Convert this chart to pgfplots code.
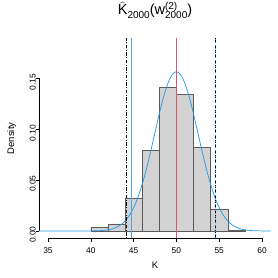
\documentclass[border=0pt]{standalone}
\usepackage{fontspec}
\setmainfont{Liberation Sans}
\usepackage{pgfplots}
\pgfplotsset{compat=1.18}
\definecolor{curveblue}{HTML}{2297E6}
\definecolor{lineblue}{HTML}{4DA6E8}
\definecolor{linered}{HTML}{DF536B}
\definecolor{barfill}{HTML}{D3D3D3}
\definecolor{baredge}{HTML}{5A5A5A}
\newcommand{\hatK}{$\widehat{\mbox{K}}$}
\newcommand{\sub}[1]{{\fontsize{10}{10}\selectfont #1}}
\begin{document}
\begin{tikzpicture}
\useasboundingbox (-39.4pt,-39.6pt) rectangle (238.6pt,238.4pt);
\begin{axis}[
  at={(0,0)}, anchor=south west,
  scale only axis, width=231.2pt, height=200.1pt,
  xmin=34, xmax=61, ymin=-0.00728, ymax=0.18928,
  axis line style={draw=none},
  clip=false,
  xtick={35,40,45,50,55,60}, ytick={0,0.05,0.1,0.15},
  xtick pos=bottom, ytick pos=left,
  tick align=outside, major tick length=3.5pt,
  tick style={black, line width=0.5pt},
  ticklabel style={font=\fontsize{8.4}{9}\selectfont},
  /pgf/number format/assume math mode=true,
  yticklabel style={/pgf/number format/fixed, /pgf/number format/fixed zerofill, /pgf/number format/precision=2, rotate=90, anchor=south, inner sep=0pt, xshift=-3.7pt},
  xticklabel style={inner sep=0pt, anchor=north, yshift=-5.2pt},
  scaled y ticks=false,
  xlabel={K}, ylabel={Density},
  xlabel style={at={(axis description cs:0.5,-0.133)}, anchor=center, font=\fontsize{9.5}{10}\selectfont},
  ylabel style={at={(axis description cs:-0.1198,0.5)}, anchor=center, font=\fontsize{9.5}{10}\selectfont},
  title={\fontsize{14.5}{16}\selectfont \hatK\raisebox{-4pt}{\sub{2000}}(w\rlap{\raisebox{5.5pt}{\sub{(2)}}}\raisebox{-4pt}{\sub{2000}})},
  title style={at={(axis description cs:0.5,1)}, anchor=base, yshift=17.5pt, inner sep=0pt},
]
\draw[black, line width=0.5pt] (axis cs:35,-0.00728) -- (axis cs:60,-0.00728);
\draw[black, line width=0.5pt] (axis cs:34,0) -- (axis cs:34,0.15);
\addplot[ybar interval, fill=barfill, draw=baredge, line width=0.5pt] coordinates {
(40,0.0035) (42,0.007) (44,0.0325) (46,0.079) (48,0.141) (50,0.134) (52,0.082) (54,0.021) (56,0.001) (58,0.001)};
\addplot[curveblue, line width=0.7pt, smooth] coordinates {
(34,0) (39,0.000014) (40,0.000071) (41,0.00031) (41.5,0.00060) (42,0.00114) (42.5,0.00206) (43,0.00360) (43.5,0.00606) (44,0.00980) (44.5,0.01526) (45,0.02286) (45.5,0.03294) (46,0.04569) (46.5,0.06097) (47,0.07829) (47.5,0.09675) (48,0.11504) (48.5,0.13162) (49,0.14491) (49.5,0.15352) (50,0.1565)
(50.5,0.15352) (51,0.14491) (51.5,0.13162) (52,0.11504) (52.5,0.09675) (53,0.07829) (53.5,0.06097) (54,0.04569) (54.5,0.03294) (55,0.02286) (55.5,0.01526) (56,0.00980) (56.5,0.00606) (57,0.00360) (57.5,0.00206) (58,0.00114) (58.5,0.00060) (59,0.00031) (60,0.000071) (61,0.000014)
};
\addplot[black, line width=0.6pt, dash pattern=on 1pt off 1.5pt on 3.5pt off 1.5pt] coordinates {(44.1,-0.00728) (44.1,0.18928)};
\addplot[lineblue, line width=0.9pt] coordinates {(44.8,-0.00728) (44.8,0.18928)};
\addplot[linered, line width=0.8pt] coordinates {(50,-0.00728) (50,0.18928)};
\addplot[black, line width=0.6pt, dash pattern=on 3pt off 2pt] coordinates {(54.5,-0.00728) (54.5,0.18928)};
\addplot[curveblue, line width=0.6pt, dash pattern=on 1pt off 2pt] coordinates {(54.5,-0.00728) (54.5,0.18928)};
\end{axis}
\end{tikzpicture}
\end{document}
